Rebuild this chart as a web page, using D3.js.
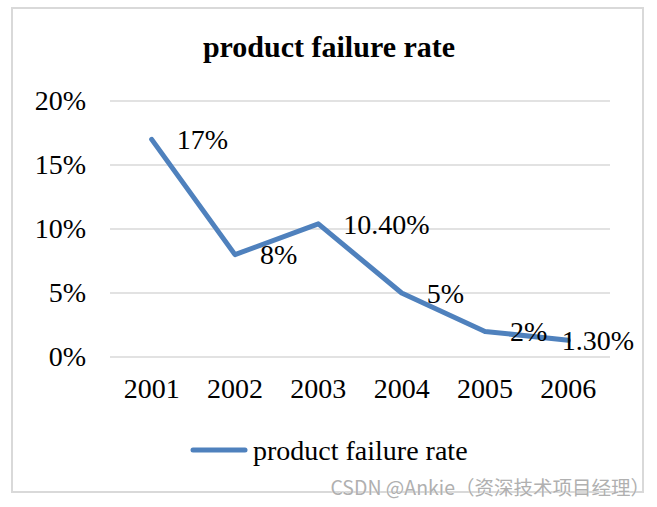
<!DOCTYPE html>
<html><head><meta charset="utf-8">
<script src="https://cdn.jsdelivr.net/npm/d3@7"></script>
<style>body{margin:0;background:#fff}svg{display:block}</style>
</head><body>
<script>
const years = ["2001","2002","2003","2004","2005","2006"];
const rates = [17, 8, 10.4, 5, 2, 1.3];
const labels = ["17%","8%","10.40%","5%","2%","1.30%"];
const yTicks = [0, 5, 10, 15, 20];
const title = "product failure rate";
const seriesName = "product failure rate";
const watermark = "CSDN @Ankie（资深技术项目经理）";

const W = 657, H = 507;
const svg = d3.select("body").append("svg").attr("width", W).attr("height", H);
const serif = "'Liberation Serif','Times New Roman',serif";

svg.append("rect").attr("x", 12).attr("y", 8).attr("width", 631).attr("height", 484)
  .attr("fill", "#fff").attr("stroke", "#d9d9d9").attr("stroke-width", 2);

const x = d3.scaleBand().domain(years).range([110, 610]);
const y = d3.scaleLinear().domain([0, 20]).range([357, 101]);

svg.append("text").attr("x", 329).attr("y", 57).attr("text-anchor", "middle")
  .attr("font-family", serif).attr("font-weight", "bold").attr("font-size", 30).text(title);

const grid = svg.append("g");
grid.selectAll("line").data(yTicks).join("line")
  .attr("x1", 110).attr("x2", 610).attr("y1", d => y(d)).attr("y2", d => y(d))
  .attr("stroke", "#d9d9d9").attr("stroke-width", 1.5);

const yAxis = svg.append("g").attr("transform", "translate(98,0)")
  .call(d3.axisLeft(y).tickValues(yTicks).tickFormat(d => d + "%").tickSize(0).tickPadding(12));
yAxis.select(".domain").remove();
yAxis.selectAll("text").attr("font-family", serif).attr("font-size", 28).attr("fill", "#000");

const xAxis = svg.append("g").attr("transform", "translate(0,372)")
  .call(d3.axisBottom(x).tickSize(0).tickPadding(6));
xAxis.select(".domain").remove();
xAxis.selectAll("text").attr("font-family", serif).attr("font-size", 28).attr("fill", "#000");

const cx = d => x(d) + x.bandwidth() / 2;
const line = d3.line().x((d, i) => cx(years[i])).y(d => y(d));
svg.append("path").datum(rates).attr("d", line).attr("fill", "none")
  .attr("stroke", "#4f81bd").attr("stroke-width", 5).attr("stroke-linejoin", "round").attr("stroke-linecap", "round");

const rightLimit = 634;
svg.append("g").selectAll("text").data(rates).join("text")
  .attr("x", (d, i) => cx(years[i]) + 25).attr("y", d => y(d)).attr("dy", "0.35em")
  .attr("font-family", serif).attr("font-size", 28).attr("fill", "#000")
  .text((d, i) => labels[i])
  .each(function() {
    const el = d3.select(this);
    const w = this.getComputedTextLength();
    const x0 = +el.attr("x");
    if (x0 + w > rightLimit) el.attr("x", rightLimit - w);
  });

const lg = svg.append("g");
lg.append("line").attr("x1", 193).attr("x2", 245).attr("y1", 450).attr("y2", 450)
  .attr("stroke", "#4f81bd").attr("stroke-width", 5).attr("stroke-linecap", "round");
lg.append("text").attr("x", 253).attr("y", 450).attr("dy", "0.35em")
  .attr("font-family", serif).attr("font-size", 28).attr("fill", "#000").text(seriesName);

svg.append("text").attr("x", 650).attr("y", 495).attr("text-anchor", "end")
  .attr("font-family", "'Noto Sans CJK SC',sans-serif").attr("font-size", 19.5)
  .attr("fill", "#b0b0b0").attr("stroke", "#fff").attr("stroke-width", 0.5).attr("paint-order", "stroke")
  .text(watermark);
</script>
</body></html>
